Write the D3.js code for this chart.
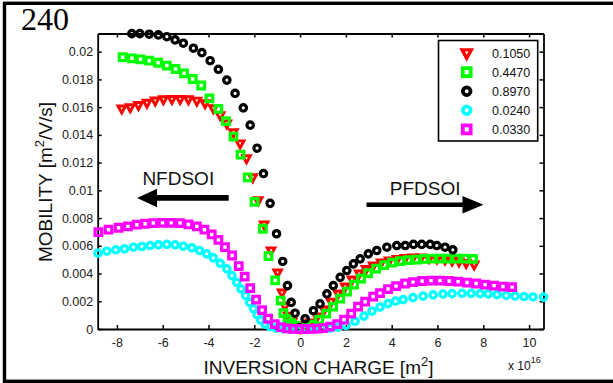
<!DOCTYPE html>
<html>
<head>
<meta charset="utf-8">
<script src="https://cdn.jsdelivr.net/npm/d3@7"></script>
<style>
  body { margin: 0; background: #fff; }
  svg text { font-family: "Liberation Sans", Arial, sans-serif; fill: #111; }
</style>
</head>
<body>
<div id="chart"></div>
<script>
// x in units of 1e16 m^-2, y = mobility in m^2/V/s
const red1050 = [
  [-7.79,0.01589],[-7.42,0.01598],[-7.06,0.01615],[-6.69,0.01631],[-6.33,0.01647],[-5.97,0.01656],
  [-5.60,0.01658],[-5.24,0.01658],[-4.88,0.01656],[-4.51,0.01646],[-4.15,0.01627],[-3.79,0.01591],
  [-3.49,0.01542],[-3.20,0.01482],[-2.91,0.01419],[-2.62,0.01338],[-2.34,0.01231],[-2.07,0.01094],
  [-1.83,0.00928],[-1.57,0.00754],[-1.27,0.00566],[-0.98,0.00407],[-0.79,0.00262],[-0.66,0.00167],
  [-0.52,0.00096],[-0.35,0.00053],[-0.17,0.00024],[0,0.00009],
  [0.17,0.00017],[0.44,0.00046],[0.74,0.00089],[1.05,0.0014],[1.35,0.00197],[1.66,0.00255],
  [1.97,0.00306],[2.27,0.00356],[2.58,0.004],[2.88,0.00432],[3.19,0.00458],[3.54,0.00479],
  [3.89,0.00494],[4.24,0.00505],[4.59,0.00512],[4.93,0.00516],[5.28,0.00516],[5.63,0.00512],
  [5.98,0.00508],[6.33,0.00501],[6.64,0.00494],[6.94,0.00487],[7.25,0.00476],[7.60,0.00465]
];
const green4470 = [
  [-7.75,0.0196],[-7.35,0.01952],[-6.97,0.01945],[-6.59,0.01935],[-6.2,0.0192],[-5.82,0.019],
  [-5.44,0.01875],[-5.07,0.01844],[-4.69,0.01803],[-4.32,0.01756],[-3.96,0.01663],[-3.57,0.01587],
  [-3.24,0.01499],[-2.91,0.01388],[-2.6,0.01257],[-2.29,0.01094],[-1.99,0.00917],[-1.63,0.00723],
  [-1.38,0.00526],[-1.09,0.00351],[-0.85,0.00205],[-0.73,0.00114],[-0.55,0.00072],[-0.39,0.00042],
  [-0.22,0.00024],[-0.04,0.00009],
  [0.22,0.00009],[0.52,0.00031],[0.83,0.00067],[1.14,0.00111],[1.44,0.00161],[1.75,0.00219],
  [2.05,0.0027],[2.36,0.0032],[2.66,0.00364],[2.97,0.00403],[3.32,0.00436],[3.67,0.00461],
  [4.02,0.00479],[4.37,0.0049],[4.72,0.00497],[5.07,0.00501],[5.41,0.00505],[5.76,0.00508],
  [6.11,0.00508],[6.46,0.00508],[6.81,0.00508],[7.21,0.00508],[7.55,0.00505]
];
const black8970 = [
  [-7.35,0.0213],[-7.0,0.0213],[-6.59,0.02126],[-6.19,0.02121],[-5.82,0.02108],[-5.46,0.02085],
  [-5.1,0.02061],[-4.66,0.02025],[-4.29,0.01993],[-3.93,0.01935],[-3.57,0.01873],[-3.2,0.01795],
  [-2.84,0.01699],[-2.48,0.01595],[-2.18,0.0147],[-1.88,0.01304],[-1.6,0.01121],[-1.31,0.00906],
  [-1.03,0.00687],[-0.76,0.00487],[-0.55,0.00313],[-0.39,0.00192],[-0.22,0.00114],[-0.03,0.00009],
  [0.22,0.00074],[0.58,0.00132],[0.87,0.00181],[1.17,0.00253],[1.45,0.00313],[1.75,0.00373],
  [2.04,0.00422],[2.33,0.0047],[2.62,0.00506],[2.98,0.00542],[3.35,0.00566],[3.79,0.0059],
  [4.22,0.00602],[4.59,0.00602],[4.95,0.0061],[5.31,0.0061],[5.68,0.0061],[5.97,0.00602],
  [6.33,0.0059],[6.67,0.00571]
];
const cyan0240 = [
  [-8.83,0.00547],[-8.44,0.00561],[-8.05,0.00571],[-7.67,0.00578],[-7.28,0.0059],[-6.91,0.00595],
  [-6.55,0.00602],[-6.19,0.00607],[-5.82,0.0061],[-5.46,0.00607],[-5.1,0.00597],[-4.73,0.00586],
  [-4.39,0.00566],[-4.08,0.00542],[-3.79,0.00513],[-3.49,0.00474],[-3.2,0.00434],[-2.98,0.00385],
  [-2.77,0.00337],[-2.58,0.00289],[-2.38,0.00241],[-2.21,0.00192],[-2.04,0.00147],[-1.88,0.00103],
  [-1.72,0.00064],[-1.53,0.00035],[-1.31,0.00017],[-1.05,0.00006],[-0.74,0.00002],[-0.39,0],[-0.09,0],
  [0.26,0],[0.61,0.00001],[0.96,0.00002],[1.31,0.00006],[1.66,0.00013],[2.01,0.00027],
  [2.4,0.00056],[2.79,0.00093],[3.14,0.00129],[3.49,0.00158],[3.84,0.00183],[4.17,0.00201],
  [4.5,0.00212],[4.93,0.00226],[5.37,0.00237],[5.81,0.00246],[6.24,0.00252],[6.64,0.00255],
  [7.07,0.00257],[7.47,0.00257],[7.86,0.00255],[8.21,0.00253],[8.6,0.00248],[9.0,0.00242],
  [9.39,0.00237],[9.78,0.00234],[10.17,0.00231],[10.63,0.0023]
];
const magenta0330 = [
  [-8.81,0.00698],[-8.37,0.00716],[-7.93,0.0073],[-7.52,0.0074],[-7.13,0.00752],[-6.77,0.00759],
  [-6.41,0.00764],[-6.01,0.00765],[-5.63,0.00765],[-5.24,0.00764],[-4.88,0.00754],[-4.51,0.0074],
  [-4.18,0.00716],[-3.86,0.00682],[-3.57,0.00643],[-3.28,0.00591],[-2.97,0.0053],[-2.68,0.00454],
  [-2.42,0.00378],[-2.18,0.00295],[-1.92,0.00212],[-1.66,0.00136],[-1.4,0.00074],[-1.11,0.00035],
  [-0.83,0.00013],[-0.57,0.00004],[-0.31,0.00001],[-0.04,0],
  [0.22,0],[0.48,0.00001],[0.74,0.00003],[1.0,0.00007],[1.31,0.00017],[1.62,0.00035],
  [1.92,0.00067],[2.23,0.00111],[2.53,0.00161],[2.84,0.00197],[3.19,0.00234],[3.49,0.00259],
  [3.84,0.00288],[4.19,0.00309],[4.59,0.00328],[4.93,0.00338],[5.33,0.00346],[5.72,0.00349],
  [6.11,0.00349],[6.51,0.00346],[6.9,0.00342],[7.29,0.00335],[7.69,0.00328],[8.08,0.0032],
  [8.47,0.00313],[8.86,0.00306],[9.26,0.00302]
];

const seriesLabels = ['0.1050', '0.4470', '0.8970', '0.0240', '0.0330'];
const xTicks = [-8, -6, -4, -2, 0, 2, 4, 6, 8, 10];
const yTicks = [0, 0.002, 0.004, 0.006, 0.008, 0.01, 0.012, 0.014, 0.016, 0.018, 0.02];
const xDomain = [-8.84, 10.63];
const yDomain = [0, 0.02131];

// arrows: tail/tip/y in data units, with a label placed above
const arrowNotes = [
  { label: 'NFDSOI', tail: -3.12, tip: -7.12, y: 0.00945, textX: -5.32, textY: 0.01039, body: 5.8, headLen: 20, headH: 18.4 },
  { label: 'PFDSOI', tail: 2.90, tip: 8.01, y: 0.00896, textX: 5.46, textY: 0.00966, body: 4.6, headLen: 21, headH: 17.6 }
];

const series = [
  { data: red1050, color: '#ff0000', shape: 'tri' },
  { data: green4470, color: '#00ff00', shape: 'square' },
  { data: black8970, color: '#000000', shape: 'circle' },
  { data: cyan0240, color: '#00ffff', shape: 'circle' },
  { data: magenta0330, color: '#ff00ff', shape: 'square' }
];

const width = 613, height = 383;
const plot = { left: 97.7, right: 543.5, top: 33.5, bottom: 329 };

const svg = d3.select('#chart').append('svg')
  .attr('width', width).attr('height', height)
  .style('display', 'block');

svg.append('rect').attr('width', width).attr('height', height).attr('fill', '#fff');
// outer figure border (right edge falls outside the picture)
svg.append('rect')
  .attr('x', 4.5).attr('y', 3.3).attr('width', 640).attr('height', 378)
  .attr('fill', 'none').attr('stroke', '#000').attr('stroke-width', 3.4);

svg.append('text').attr('x', 21).attr('y', 29.5)
  .style('font-family', '"Liberation Serif", "Times New Roman", serif')
  .style('font-size', '32px').style('fill', '#000')
  .text('240');

const x = d3.scaleLinear().domain(xDomain).range([plot.left, plot.right]);
const y = d3.scaleLinear().domain(yDomain).range([plot.bottom, plot.top]);

function styleAxis(g) {
  g.select('.domain').attr('stroke', '#000').attr('stroke-width', 1.8);
  g.selectAll('.tick line').attr('stroke', '#000').attr('stroke-width', 1.5);
  g.selectAll('.tick text').style('font-size', '12.5px').style('fill', '#222')
    .style('font-family', '"Liberation Sans", Arial, sans-serif');
}

svg.append('g').attr('transform', `translate(0,${plot.bottom})`)
  .call(d3.axisBottom(x).tickValues(xTicks).tickSize(-4).tickSizeOuter(0).tickPadding(9)
    .tickFormat(d => String(d)))
  .call(styleAxis);
svg.append('g').attr('transform', `translate(0,${plot.top})`)
  .call(d3.axisTop(x).tickValues(xTicks).tickSize(-4).tickSizeOuter(0).tickFormat(''))
  .call(styleAxis);
svg.append('g').attr('transform', `translate(${plot.left},0)`)
  .call(d3.axisLeft(y).tickValues(yTicks).tickSize(-4).tickSizeOuter(0).tickPadding(4.5)
    .tickFormat(d => String(+d.toFixed(4))))
  .call(styleAxis);
svg.append('g').attr('transform', `translate(${plot.right},0)`)
  .call(d3.axisRight(y).tickValues(yTicks).tickSize(-4).tickSizeOuter(0).tickFormat(''))
  .call(styleAxis);

// markers
function markerPath(shape, s) {
  if (shape === 'tri') {
    return `M${-3.8 * s},${-2.6 * s}L${3.8 * s},${-2.6 * s}L0,${4.4 * s}Z`;
  }
  if (shape === 'square') {
    const h = 3.3 * s;
    return `M${-h},${-h}L${h},${-h}L${h},${h}L${-h},${h}Z`;
  }
  const r = 3.2 * s;
  return `M${r},0A${r},${r},0,1,1,${-r},0A${r},${r},0,1,1,${r},0Z`;
}

const marks = svg.append('g');
series.forEach(sr => {
  marks.append('g').selectAll('path')
    .data(sr.data)
    .join('path')
    .attr('transform', d => `translate(${x(d[0])},${y(d[1])})`)
    .attr('d', markerPath(sr.shape, 1))
    .attr('fill', 'none')
    .attr('stroke', sr.color)
    .attr('stroke-width', sr.shape === 'tri' ? 2.9 : 3.2)
    .attr('stroke-linejoin', 'miter');
});

// arrows and labels
arrowNotes.forEach(a => {
  const dir = Math.sign(a.tip - a.tail);
  const tx = x(a.tip), bx = x(a.tail), yy = y(a.y);
  const hb = tx - dir * a.headLen;
  const p = d3.path();
  p.moveTo(bx, yy - a.body / 2);
  p.lineTo(hb, yy - a.body / 2);
  p.lineTo(hb, yy - a.headH / 2);
  p.lineTo(tx, yy);
  p.lineTo(hb, yy + a.headH / 2);
  p.lineTo(hb, yy + a.body / 2);
  p.lineTo(bx, yy + a.body / 2);
  p.closePath();
  svg.append('path').attr('d', p.toString()).attr('fill', '#000');
  svg.append('text')
    .attr('x', x(a.textX)).attr('y', y(a.textY))
    .attr('text-anchor', 'middle')
    .style('font-size', '19px')
    .text(a.label);
});

// legend
const lg = svg.append('g');
lg.append('rect')
  .attr('x', 438.5).attr('y', 40.5).attr('width', 99.2).attr('height', 100.5)
  .attr('fill', '#fff').attr('stroke', '#000').attr('stroke-width', 1.6);
series.forEach((sr, i) => {
  const cy = 53 + i * 19.1;
  lg.append('path')
    .attr('transform', `translate(466.7,${cy})`)
    .attr('d', markerPath(sr.shape, 1.2))
    .attr('fill', 'none')
    .attr('stroke', sr.color)
    .attr('stroke-width', sr.shape === 'tri' ? 3.4 : 3.8);
  lg.append('text')
    .attr('x', 492).attr('y', cy + 4.6)
    .style('font-size', '12.5px')
    .text(seriesLabels[i]);
});

// axis titles
const yl = svg.append('text')
  .attr('transform', 'translate(52,182) rotate(-90)')
  .attr('text-anchor', 'middle')
  .style('font-size', '19px');
yl.append('tspan').text('MOBILITY [m');
yl.append('tspan').attr('dy', -8).style('font-size', '13px').text('2');
yl.append('tspan').attr('dy', 8).text('/V/s]');

const xl = svg.append('text')
  .attr('x', 318.5).attr('y', 374)
  .attr('text-anchor', 'middle')
  .style('font-size', '19px');
xl.append('tspan').text('INVERSION CHARGE [m');
xl.append('tspan').attr('dy', -8).style('font-size', '13px').text('2');
xl.append('tspan').attr('dy', 8).text(']');

const mult = svg.append('text').attr('x', 508).attr('y', 370).style('font-size', '12px');
mult.append('tspan').text('x 10');
mult.append('tspan').attr('dy', -7).style('font-size', '9px').text('16');
</script>
</body>
</html>
